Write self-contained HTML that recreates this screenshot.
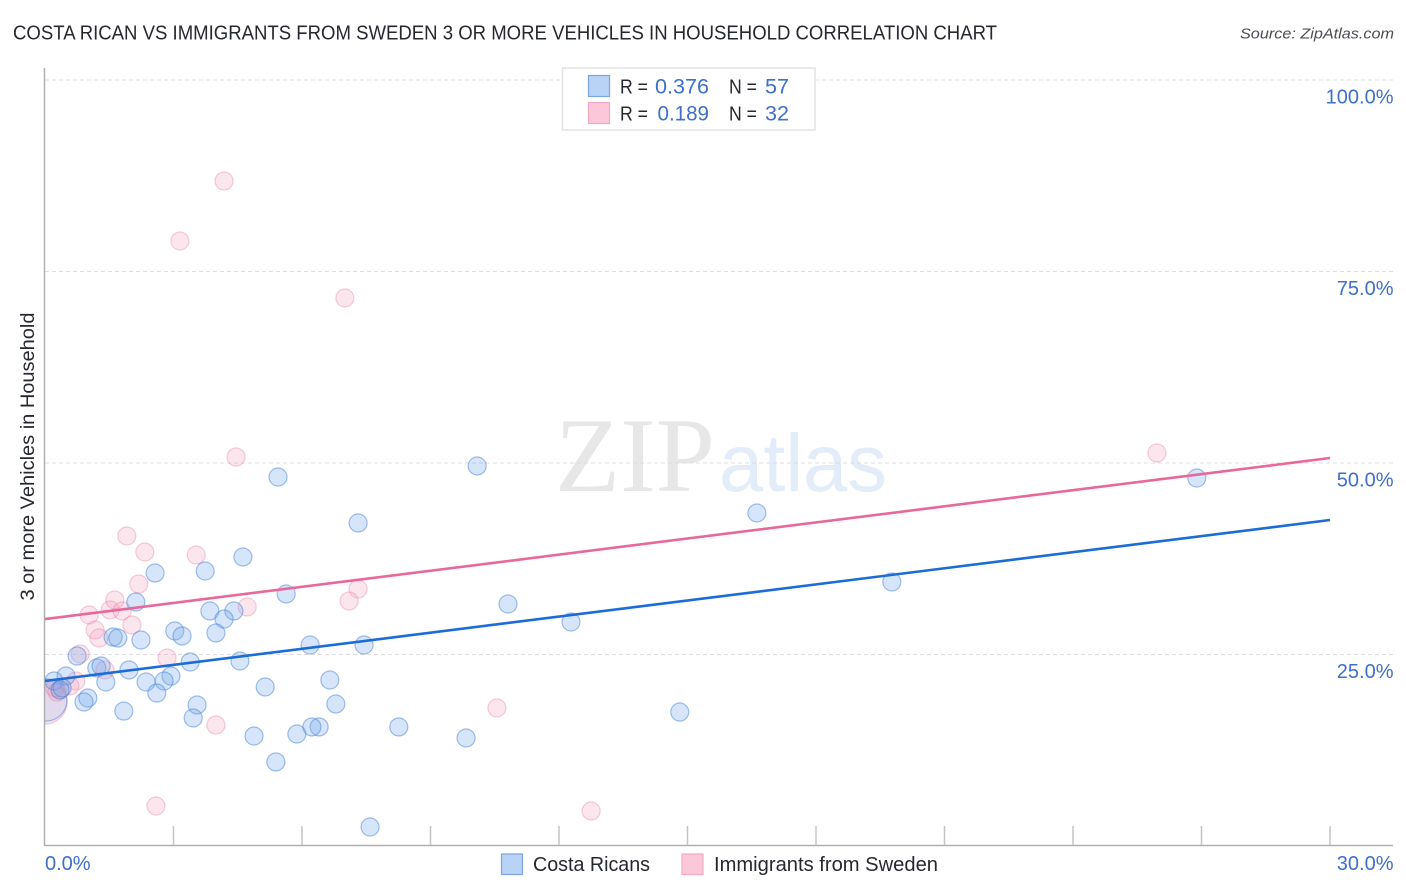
<!DOCTYPE html>
<html lang="en">
<head>
<meta charset="utf-8">
<title>Costa Rican vs Immigrants from Sweden correlation chart</title>
<style>
html,body{margin:0;padding:0;background:#fff;}
svg{display:block;}
text{font-family:"Liberation Sans",sans-serif;}
</style>
</head>
<body>
<svg id="chart" width="1406" height="892" viewBox="0 0 1406 892" xmlns="http://www.w3.org/2000/svg">
  <defs>
    <clipPath id="plot-clip"><rect x="45" y="60" width="1350" height="786"></rect></clipPath>
  </defs>
  <rect width="1406" height="892" fill="#ffffff"></rect>
  <text x="13" y="39.5" font-size="20" fill="#25282e" textLength="984" lengthAdjust="spacingAndGlyphs">COSTA RICAN VS IMMIGRANTS FROM SWEDEN 3 OR MORE VEHICLES IN HOUSEHOLD CORRELATION CHART</text>
  <text x="1394" y="38.5" font-size="15" font-style="italic" fill="#4a4d52" text-anchor="end" textLength="154" lengthAdjust="spacingAndGlyphs">Source: ZipAtlas.com</text>

  <g>
    <text x="555" y="491" font-size="106" fill="#e7e7e7" textLength="160" lengthAdjust="spacingAndGlyphs" style="font-family:'Liberation Serif',serif">ZIP</text>
    <text x="719" y="491" font-size="82" fill="#e3ecf9" textLength="168" lengthAdjust="spacingAndGlyphs">atlas</text>
  </g>

  <g id="grid"></g>
  <g id="axes"></g>
  <g id="points" clip-path="url(#plot-clip)"></g>
  <g id="trends"></g>
  <g id="labels"></g>

  <text transform="translate(34 456.5) rotate(-90)" font-size="19" fill="#25282e" text-anchor="middle" textLength="288" lengthAdjust="spacingAndGlyphs">3 or more Vehicles in Household</text>

  <g>
    <rect x="562.5" y="68" width="252.5" height="62" fill="#ffffff" stroke="#e2e2e2" stroke-width="1.5"></rect>
    <rect x="588.5" y="75.5" width="21" height="21" fill="#b9d3f7" stroke="#7ba5dc" stroke-width="1.2"></rect>
    <rect x="588.5" y="102.5" width="21" height="21" fill="#fcc8d9" stroke="#f3a9c2" stroke-width="1.2"></rect>
    <text x="620" y="93.5" font-size="20" fill="#25282e" textLength="28" lengthAdjust="spacingAndGlyphs">R =</text>
    <text x="655" y="93.5" font-size="21" fill="#3d6fcc" textLength="54" lengthAdjust="spacingAndGlyphs">0.376</text>
    <text x="729" y="93.5" font-size="20" fill="#25282e" textLength="28" lengthAdjust="spacingAndGlyphs">N =</text>
    <text x="765" y="93.5" font-size="21" fill="#3d6fcc" textLength="24" lengthAdjust="spacingAndGlyphs">57</text>
    <text x="620" y="120.5" font-size="20" fill="#25282e" textLength="28" lengthAdjust="spacingAndGlyphs">R =</text>
    <text x="657.5" y="120.5" font-size="21" fill="#3d6fcc" textLength="51.5" lengthAdjust="spacingAndGlyphs">0.189</text>
    <text x="729" y="120.5" font-size="20" fill="#25282e" textLength="28" lengthAdjust="spacingAndGlyphs">N =</text>
    <text x="765" y="120.5" font-size="21" fill="#3d6fcc" textLength="24" lengthAdjust="spacingAndGlyphs">32</text>
  </g>

  <g>
    <rect x="501.5" y="854" width="21" height="20.5" fill="#b9d3f7" stroke="#7ba5dc" stroke-width="1.2"></rect>
    <text x="533" y="871" font-size="20" fill="#25282e" textLength="117" lengthAdjust="spacingAndGlyphs">Costa Ricans</text>
    <rect x="682" y="854" width="21" height="20.5" fill="#fcc8d9" stroke="#f3a9c2" stroke-width="1.2"></rect>
    <text x="714" y="871" font-size="20" fill="#25282e" textLength="224" lengthAdjust="spacingAndGlyphs">Immigrants from Sweden</text>
  </g>
</svg>
<script>
const yGridValues = [25, 50, 75, 100];
const yTickLabels = ["25.0%", "50.0%", "75.0%", "100.0%"];
const xTickValues = [0, 3, 6, 9, 12, 15, 18, 21, 24, 27, 30];
const xEndLabels = ["0.0%", "30.0%"];

const blueX = [5.44,10.09,26.89,16.62,7.31,4.62,2.57,3.74,19.77,5.63,2.12,3.85,4.41,10.81,4.18,12.28,3.03,3.20,3.99,2.24,1.59,1.70,6.19,7.45,0.75,4.55,3.39,1.21,1.31,1.96,0.49,2.94,2.78,2.36,1.42,0.21,5.14,6.65,2.61,1.00,0.91,3.55,6.79,1.84,14.82,3.46,8.26,6.40,6.23,5.88,4.88,9.83,5.39,7.59,0.35,0.40];
const blueY = [48.17,49.61,48.04,43.47,42.17,37.73,35.64,35.90,34.47,32.90,31.85,30.68,30.68,31.59,29.63,29.24,28.07,27.42,27.81,26.89,27.28,27.15,26.24,26.24,24.80,24.15,24.02,23.24,23.50,22.98,22.19,22.19,21.54,21.41,21.41,21.54,20.76,21.67,19.97,19.32,18.80,18.41,18.54,17.62,17.49,16.71,15.54,15.54,15.54,14.62,14.36,14.10,10.97,2.48,20.37,20.63];
const blueClusterX = [0.02];
const blueClusterY = [19.06];
const blueClusterN = [5.5];

const pinkX = [4.18,3.15,7.00,4.46,25.96,1.91,2.33,3.53,2.19,7.31,1.63,7.10,4.72,1.03,1.52,1.80,2.03,1.17,1.26,0.82,2.85,1.40,0.72,0.58,10.55,3.99,2.59,12.75,0.35,0.23,0.28];
const pinkY = [86.82,78.98,71.54,50.78,51.31,40.47,38.38,37.99,34.20,33.55,32.12,31.98,31.20,30.16,30.81,30.68,28.85,28.20,27.15,25.07,24.54,22.98,21.54,20.89,18.02,15.80,5.22,4.57,20.37,20.63,20.10];
const pinkClusterX = [0];
const pinkClusterY = [18.80];
const pinkClusterN = [6];

const blueTrendStart = 21.54;
const blueTrendEnd = 42.56;
const pinkTrendStart = 29.63;
const pinkTrendEnd = 50.65;

const NS = 'http://www.w3.org/2000/svg';
function xScale(v) { return 45 + (v / 30) * 1285; }
function yScale(v) { return 846 - (v / 100) * 766; }
function radius(n) { return 9 * Math.sqrt(n); }

function make(tag, attrs, parent) {
  const el = document.createElementNS(NS, tag);
  Object.keys(attrs).forEach(function (k) { el.setAttribute(k, attrs[k]); });
  parent.appendChild(el);
  return el;
}

const grid = document.getElementById('grid');
const axes = document.getElementById('axes');
const pointsLayer = document.getElementById('points');
const trends = document.getElementById('trends');
const labels = document.getElementById('labels');

yGridValues.forEach(function (v) {
  const line = make('line', { x1: 45, x2: 1393, y1: yScale(v), y2: yScale(v), stroke: '#dcdcdc', 'stroke-width': 1, 'stroke-dasharray': '4 3' }, grid);
  
  
});

const yAxis = make('line', { x1: 44.5, x2: 44.5, y1: 68, y2: 846, stroke: '#b0b0b0', 'stroke-width': 1.5 }, axes);


const xAxis = make('line', { x1: 44, x2: 1393, y1: 845.5, y2: 845.5, stroke: '#b0b0b0', 'stroke-width': 1.5 }, axes);



xTickValues.forEach(function (v) {
  if (v === 0) return;
  const tick = make('line', { x1: xScale(v), x2: xScale(v), y1: 826, y2: 845, stroke: '#c4c4c4', 'stroke-width': 1.5 }, axes);
  
  
});

function drawPoint(x, y, n, fill, stroke, name) {
  const c = make('circle', { cx: xScale(x), cy: yScale(y), r: radius(n), fill: fill, stroke: stroke, 'stroke-width': 1.2 }, pointsLayer);
  
  
}

const blueFill = 'rgba(120,170,235,0.30)';
const blueStroke = 'rgba(70,130,215,0.5)';
const pinkFill = 'rgba(245,160,190,0.26)';
const pinkStroke = 'rgba(235,120,160,0.38)';

pinkClusterX.forEach(function (x, i) { drawPoint(x, pinkClusterY[i], pinkClusterN[i], pinkFill, pinkStroke, 'point-sweden-cluster'); });
blueClusterX.forEach(function (x, i) { drawPoint(x, blueClusterY[i], blueClusterN[i], 'rgba(120,170,235,0.2)', blueStroke, 'point-costa-rican-cluster'); });
pinkX.forEach(function (x, i) { drawPoint(x, pinkY[i], 1, pinkFill, pinkStroke, 'point-sweden'); });
blueX.forEach(function (x, i) { drawPoint(x, blueY[i], 1, blueFill, blueStroke, 'point-costa-rican'); });

const pinkTrend = make('line', { x1: xScale(0), x2: xScale(30), y1: yScale(pinkTrendStart), y2: yScale(pinkTrendEnd), stroke: '#e8689a', 'stroke-width': 2.6 }, trends);


const blueTrend = make('line', { x1: xScale(0), x2: xScale(30), y1: yScale(blueTrendStart), y2: yScale(blueTrendEnd), stroke: '#1c6bd6', 'stroke-width': 2.6 }, trends);



yGridValues.forEach(function (v, i) {
  const t = make('text', { x: 1393.5, y: yScale(v) + 23.5, 'font-size': 20, fill: '#3d6fcc', 'text-anchor': 'end' }, labels);
  t.textContent = yTickLabels[i];
  
  
});

const xStartLabel = make('text', { x: 45, y: 870, 'font-size': 20, fill: '#3d6fcc' }, labels);
xStartLabel.textContent = xEndLabels[0];


const xEndLabel = make('text', { x: 1393.5, y: 870, 'font-size': 20, fill: '#3d6fcc', 'text-anchor': 'end' }, labels);
xEndLabel.textContent = xEndLabels[1];


</script>
</body>
</html>
